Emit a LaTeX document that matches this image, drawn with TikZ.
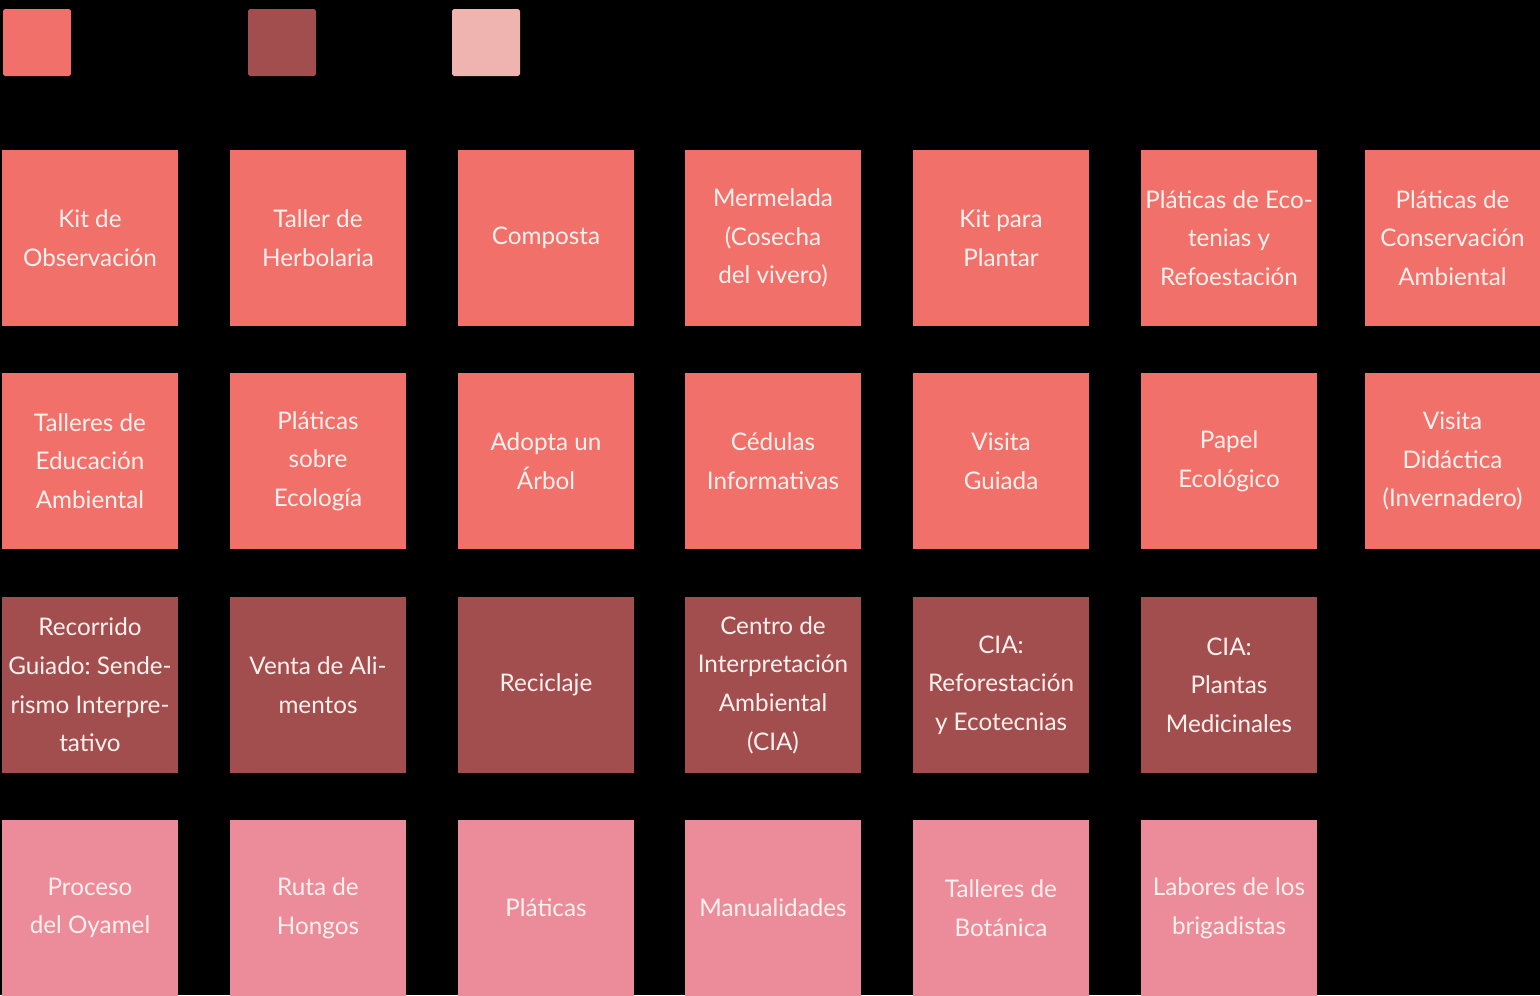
\documentclass[tikz,border=0pt]{standalone}
\usepackage{fontspec}
\setmainfont{Lato}
\usepackage{tikz}
\usetikzlibrary{positioning}

\definecolor{salmon}{HTML}{F1706A}
\definecolor{ladrillo}{HTML}{A34E4E}
\definecolor{rosa}{HTML}{EC8B99}
\definecolor{rosaclaro}{HTML}{EFB4B0}
\definecolor{letra}{HTML}{FFF1EE}

\tikzset{
  tarjeta/.style={minimum width=3.52cm, minimum height=3.52cm, inner sep=0pt,
    align=center, text=letra,
    font=\fontsize{13.8}{22}\selectfont\frenchspacing},
  muestra/.style={rounded corners=1pt, minimum width=1.36cm, minimum height=1.34cm, inner sep=0pt}
}

\begin{document}
\begin{tikzpicture}[x=0.02cm, y=-0.02cm]
		% fondo
		\fill[black] (0,0) rectangle (1540,995);
		\useasboundingbox (0,0) rectangle (1540,995);

		% 1. Leyenda
		\node[muestra, fill=salmon] (ley1) at (37,42.5) {};
		\node[muestra, fill=ladrillo] (ley2) at (282,42.5) {};
		\node[muestra, fill=rosaclaro] (ley3) at (486,42.5) {};

		% 2. Primera fila
		\node[tarjeta, fill=salmon] (a1) at (90,238) {Kit de\\Observación};
		\node[tarjeta, fill=salmon] (a2) at (318,238) {Taller de\\Herbolaria};
		\node[tarjeta, fill=salmon] (a3) at (546,238) {Composta};
		\node[tarjeta, fill=salmon] (a4) at (773,238) {Mermelada\\(Cosecha\\del vivero)};
		\node[tarjeta, fill=salmon] (a5) at (1001,238) {Kit para\\Plantar};
		\node[tarjeta, fill=salmon] (a6) at (1229,238) {Pláticas de Eco-\\tenias y\\Refoestación};
		\node[tarjeta, fill=salmon] (a7) at (1452.5,238) {Pláticas de\\Conservación\\Ambiental};

		% 3. Segunda fila
		\node[tarjeta, fill=salmon] (b1) at (90,461) {Talleres de\\Educación\\Ambiental};
		\node[tarjeta, fill=salmon] (b2) at (318,461) {Pláticas\\sobre\\Ecología};
		\node[tarjeta, fill=salmon] (b3) at (546,461) {Adopta un\\Árbol};
		\node[tarjeta, fill=salmon] (b4) at (773,461) {Cédulas\\Informativas};
		\node[tarjeta, fill=salmon] (b5) at (1001,461) {Visita\\Guiada};
		\node[tarjeta, fill=salmon] (b6) at (1229,461) {Papel\\Ecológico};
		\node[tarjeta, fill=salmon] (b7) at (1452.5,461) {Visita\\Didáctica\\(Invernadero)};

		% 4. Tercera fila
		\node[tarjeta, fill=ladrillo] (c1) at (90,685) {Recorrido\\Guiado: Sende-\\rismo Interpre-\\tativo};
		\node[tarjeta, fill=ladrillo] (c2) at (318,685) {Venta de Ali-\\mentos};
		\node[tarjeta, fill=ladrillo] (c3) at (546,685) {Reciclaje};
		\node[tarjeta, fill=ladrillo] (c4) at (773,685) {Centro de\\Interpretación\\Ambiental\\(CIA)};
		\node[tarjeta, fill=ladrillo] (c5) at (1001,685) {CIA:\\Reforestación\\y Ecotecnias};
		\node[tarjeta, fill=ladrillo] (c6) at (1229,685) {CIA:\\Plantas\\Medicinales};

		% 5. Cuarta fila
		\node[tarjeta, fill=rosa] (d1) at (90,908) {Proceso\\del Oyamel};
		\node[tarjeta, fill=rosa] (d2) at (318,908) {Ruta de\\Hongos};
		\node[tarjeta, fill=rosa] (d3) at (546,908) {Pláticas};
		\node[tarjeta, fill=rosa] (d4) at (773,908) {Manualidades};
		\node[tarjeta, fill=rosa] (d5) at (1001,908) {Talleres de\\Botánica};
		\node[tarjeta, fill=rosa] (d6) at (1229,908) {Labores de los\\brigadistas};
	\end{tikzpicture}
\end{document}
